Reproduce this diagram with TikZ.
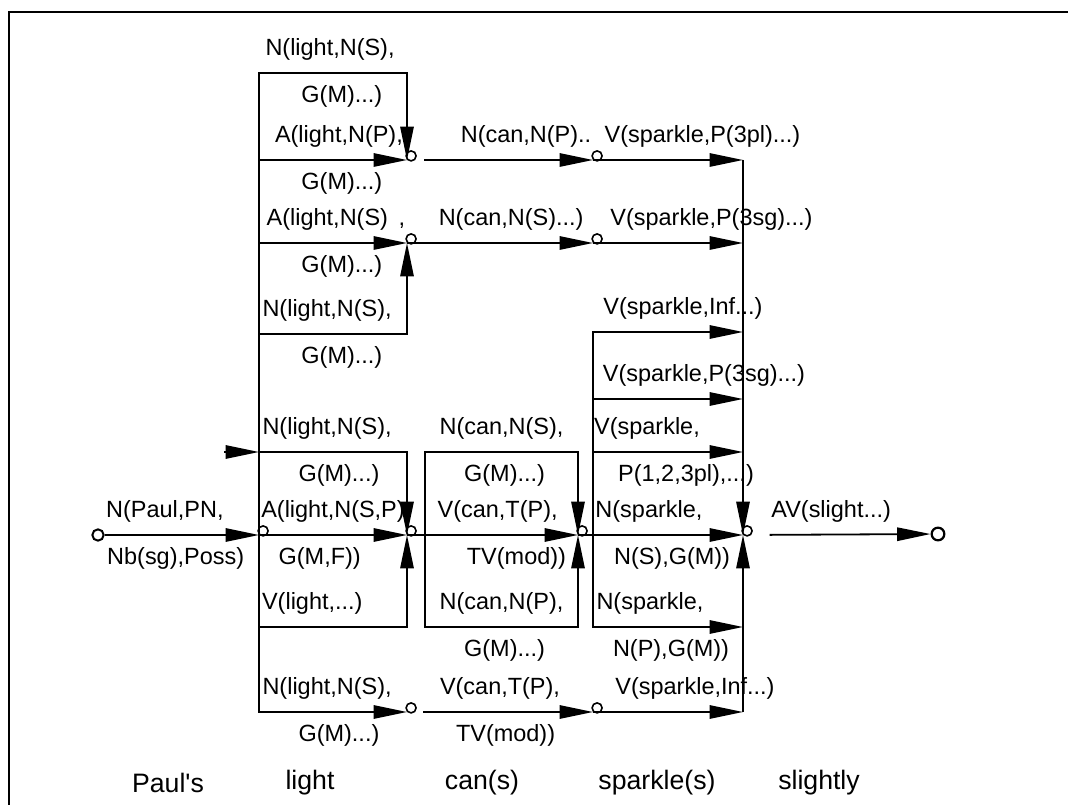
\documentclass[tikz,border=0pt]{standalone}
\usepackage{fontspec}
\setmainfont{Liberation Sans}
\usetikzlibrary{arrows.meta, positioning}

\begin{document}
\begin{tikzpicture}[x=0.75pt, y=-0.75pt, line width=1.35pt,
    arr/.style={-{Triangle[length=25pt,width=10pt]}},
    state/.style={draw, circle, inner sep=0pt, minimum size=7.5pt, line width=1.2pt, anchor=south west},
    lab/.style={font=\fontsize{17.6}{20}\selectfont, inner sep=1pt, text height=12.6pt, text depth=3.8pt},
    labup/.style={lab, above=7.5pt},
    labdn/.style={lab, below=7.5pt},
    word/.style={font=\fontsize{20}{24}\selectfont}]
    \useasboundingbox (0,0) rectangle (1068,805);

    % Khung
    \draw[line width=1.5pt] (9,805) -- (9,12) -- (1068,12);

    % Trạng thái
    \node[state, anchor=center, minimum size=8.5pt, line width=1.5pt] (s0) at (98,535) {};
    \node[state] (s1) at (259,535) {};
    \node[state] (a1) at (407,160) {};
    \node[state] (a2) at (407,243) {};
    \node[state] (b1) at (593,160) {};
    \node[state] (b2) at (593,243) {};
    \node[state] (c1) at (407,535) {};
    \node[state] (c2) at (407,712) {};
    \node[state] (d1) at (578,535) {};
    \node[state] (d2) at (593,712) {};
    \node[state] (f) at (743,535) {};
    \node[state, anchor=center, minimum size=9.5pt, line width=1.7pt] (e) at (938,534) {};

    % Góc của các đường
    \coordinate (lt1) at (407,73);
    \coordinate (lb1) at (407,334);
    \coordinate (stub) at (224,452);
    \coordinate (lt2w) at (259,452);
    \coordinate (lt2) at (407,452);
    \coordinate (lb2) at (407,627);
    \coordinate (cw) at (425,535);
    \coordinate (ct) at (578,452);
    \coordinate (cb) at (578,627);
    \coordinate (sp) at (593,535);
    \coordinate (t1) at (743,160);
    \coordinate (t2) at (743,243);
    \coordinate (v1) at (743,332);
    \coordinate (v2) at (743,399);
    \coordinate (v3) at (743,452);
    \coordinate (v5) at (743,627);
    \coordinate (v6) at (743,712);

    % Paul's
    \draw[arr] (s0) -- node[labup, pos=.39] (p1) {N(Paul,PN,} node[labdn, pos=.46] (p2) {Nb(sg),Poss)} (s1.south west);

    % light, khối trên
    \draw[arr] (s1.south west) |- node[labup, pos=.74] (l1) {N(light,N(S),} node[labdn, pos=.78] (l2) {G(M)...)} (lt1) -- (a1.south west);
    \draw[arr] (s1.south west) |- node[labup, pos=.77] (l3) {A(light,N(P),} node[labdn, pos=.78] (l4) {G(M)...)} (a1.south west);
    \draw[arr] (s1.south west) |- node[labup, pos=.76] (l5) {A(light,N(S)\hspace{8pt},} node[labdn, pos=.78] (l6) {G(M)...)} (a2.south west);
    \draw[arr] (s1.south west) |- node[labup, pos=.73] (l7) {N(light,N(S),} node[labdn, pos=.78] (l8) {G(M)...)} (lb1) -- (a2.south west);

    % light, khối dưới
    \draw[arr] (stub) -- (lt2w);
    \draw[arr] (s1.south west) |- node[labup, pos=.73] (m1) {N(light,N(S),} node[labdn, pos=.77] (m2) {G(M)...)} (lt2) -- (c1.south west);
    \draw[arr] (s1.south west) -- node[labup, pos=.5] (m3) {A(light,N(S,P)} node[labdn, pos=.41] (m4) {G(M,F))} (c1.south west);
    \draw[arr] (s1.south west) |- node[labup, pos=.68] (m5) {V(light,...)} (lb2) -- (c1.south west);
    \draw[arr] (s1.south west) |- node[labup, pos=.73] (m6) {N(light,N(S),} node[labdn, pos=.77] (m7) {G(M)...)} (c2.south west);

    % can(s)
    \draw[arr] (c1.south west) -- (cw) |- node[labup, pos=.75] (k1) {N(can,N(S),} node[labdn, pos=.76] (k2) {G(M)...)} (ct) -- (d1.south west);
    \draw[arr] (c1.south west) -- node[labup, pos=.53] (k3) {V(can,T(P),} node[labdn, pos=.64] (k4) {TV(mod))} (d1.south west);
    \draw[arr] (cw) |- node[labup, pos=.75] (k5) {N(can,N(P),} node[labdn, pos=.76] (k6) {G(M)...)} (cb) -- (d1.south west);
    \draw[arr, shorten <=12pt] (c2.south west) -- node[labup, pos=.5] (k7) {V(can,T(P),} node[labdn, pos=.53] (k8) {TV(mod))} (d2.south west);
    \draw[arr, shorten <=13pt] (a1.south west) -- node[labup, pos=.64] (k9) {N(can,N(P)..} (b1.south west);
    \draw[arr] (a2.south west) -- node[labup, pos=.56] (k10) {N(can,N(S)...)} (b2.south west);

    % sparkle(s)
    \draw[arr] (b1.south west) -- node[labup, pos=.73] (q1) {V(sparkle,P(3pl)...)} (t1);
    \draw[arr] (b2.south west) -- node[labup, pos=.79] (q2) {V(sparkle,P(3sg)...)} (t2);
    \draw[arr] (d1.south west) -- node[labup, pos=.43] (q3) {N(sparkle,} node[labdn, pos=.57] (q4) {N(S),G(M))} (f.south west);
    \draw[arr] (sp) |- node[labup, pos=.8] (q5) {V(sparkle,Inf...)} (v1);
    \draw[arr] (sp) |- node[labup, pos=.87] (q6) {V(sparkle,P(3sg)...)} (v2);
    \draw[arr] (sp) |- node[labup, pos=.68] (q7) {V(sparkle,} node[labdn, pos=.81] (q8) {P(1,2,3pl),...)} (v3);
    \draw[arr] (sp) |- node[labup, pos=.69] (q9) {N(sparkle,} node[labdn, pos=.76] (q10) {N(P),G(M))} (v5);
    \draw[arr] (d2.south west) -- node[labup, pos=.68] (q11) {V(sparkle,Inf...)} (v6);
    \draw[arr] (t1) -- (f.south west);
    \draw[arr] (v6) -- (f.south west);

    % slightly
    \draw[arr, shorten <=20pt] (f.south west) -- node[labup, pos=.47] (r1) {AV(slight...)} (e);

    % Các từ
    \foreach \w/\x in {Paul\textquotesingle s/168, light/310, can(s)/482, sparkle(s)/657, slightly/819}
        \node[word] (w\x) at (\x,783) {\w};
\end{tikzpicture}
\end{document}
